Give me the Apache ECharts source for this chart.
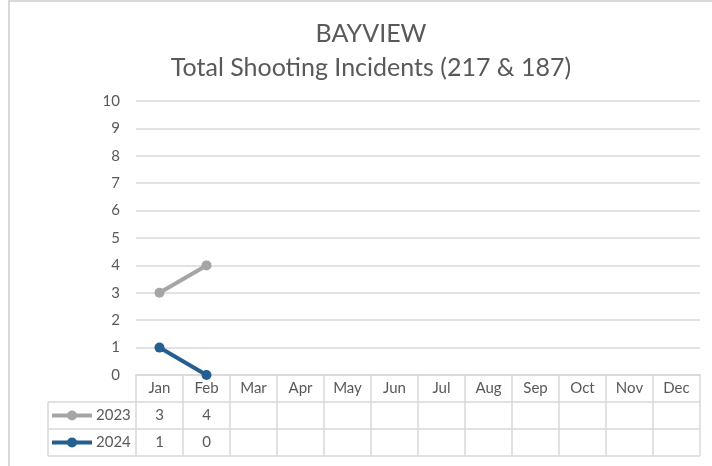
<!DOCTYPE html>
<html>
<head>
<meta charset="utf-8">
<script src="https://cdn.jsdelivr.net/npm/echarts@6/dist/echarts.min.js"></script>
<style>
  html,body{margin:0;padding:0;background:#fff;}
  #chart{width:712px;height:466px;}
</style>
</head>
<body>
<div id="chart"></div>
<script>
// 数据：月份 + 两年的枪击事件数（空月份为 null）
const MONTHS=['Jan','Feb','Mar','Apr','May','Jun','Jul','Aug','Sep','Oct','Nov','Dec'];
const Y2023=[3,4,null,null,null,null,null,null,null,null,null,null];
const Y2024=[1,0,null,null,null,null,null,null,null,null,null,null];
const SERIES_NAMES=['2023','2024'];
const COLORS=['#a5a5a5','#255e91'];
const TITLE='BAYVIEW\nTotal Shooting Incidents (217 & 187)';

const FONT='Lato, "Open Sans", sans-serif';
const TXT='#595959', GRID='#d9d9d9';
const G={left:136,right:12,top:101,bottom:91};
const ROW=27, LEGEND_X=48;

const chart=echarts.init(document.getElementById('chart'));

chart.setOption({
  animation:false,
  textStyle:{fontFamily:FONT},
  title:{text:TITLE,left:366,top:12,textAlign:'center',
    textStyle:{fontFamily:FONT,fontSize:25,fontWeight:'normal',color:TXT,lineHeight:34}},
  grid:G,
  xAxis:{type:'category',data:MONTHS,boundaryGap:true,
    axisLine:{lineStyle:{color:GRID,width:1.5}},axisTick:{show:false},
    axisLabel:{show:false}},
  yAxis:{type:'value',min:0,max:10,interval:1,
    axisLine:{show:false},axisTick:{show:false},
    axisLabel:{color:TXT,fontSize:15,margin:16,fontFamily:FONT},
    splitLine:{lineStyle:{color:GRID,width:1.5}}},
  series:[Y2023,Y2024].map((d,i)=>({name:SERIES_NAMES[i],type:'line',data:d,
    symbol:'circle',symbolSize:10,
    lineStyle:{width:4,color:COLORS[i]},itemStyle:{color:COLORS[i]}}))
});

// 底部数据表：按坐标轴换算列位置
function buildTable(){
  const c0=chart.convertToPixel({xAxisIndex:0},0);
  const c1=chart.convertToPixel({xAxisIndex:0},1);
  const bw=c1-c0;
  const x0=c0-bw/2, x1=x0+bw*MONTHS.length;
  const yAxis0=chart.convertToPixel({yAxisIndex:0},0);
  const rTop=yAxis0+ROW;        // 第一行数据的上沿
  const els=[];
  const line=(xa,ya,xb,yb)=>els.push({type:'line',silent:true,
    shape:{x1:xa,y1:ya,x2:xb,y2:yb},style:{stroke:GRID,lineWidth:1.5}});
  const text=(x,y,t,align)=>els.push({type:'text',silent:true,x,y,
    style:{text:t,fill:TXT,font:'15px '+FONT,align:align||'center',verticalAlign:'middle'}});

  // 外框（左、上）
  els.push({type:'rect',silent:true,shape:{x:9,y:1,width:800,height:600},
    style:{fill:null,stroke:GRID,lineWidth:2}});

  for(let k=0;k<=MONTHS.length;k++) line(x0+bw*k,yAxis0,x0+bw*k,rTop+ROW*2);
  for(let r=0;r<=2;r++) line(LEGEND_X,rTop+ROW*r,x1,rTop+ROW*r);
  line(LEGEND_X,rTop,LEGEND_X,rTop+ROW*2);

  MONTHS.forEach((m,i)=>text(x0+bw*(i+0.5),yAxis0+ROW/2,m));
  [Y2023,Y2024].forEach((d,r)=>{
    const cy=rTop+ROW*(r+0.5);
    els.push({type:'line',silent:true,shape:{x1:52,y1:cy,x2:92,y2:cy},
      style:{stroke:COLORS[r],lineWidth:4}});
    els.push({type:'circle',silent:true,shape:{cx:72,cy,r:5},style:{fill:COLORS[r]}});
    text(96,cy,SERIES_NAMES[r],'left');
    d.forEach((v,i)=>{ if(v!=null) text(x0+bw*(i+0.5),cy,String(v)); });
  });
  chart.setOption({graphic:els});
}
buildTable();
</script>
</body>
</html>
